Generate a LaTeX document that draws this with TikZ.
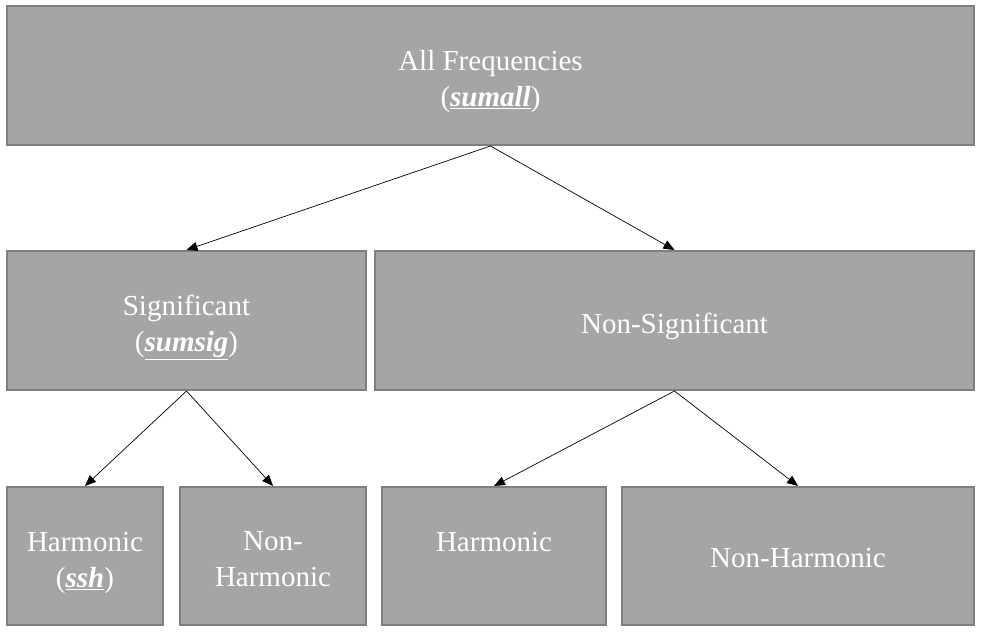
\documentclass[tikz,border=0pt]{standalone}
\usepackage{fontspec}
\setmainfont{Liberation Serif}
\usetikzlibrary{arrows.meta}
\definecolor{boxfill}{HTML}{A5A5A5}
\definecolor{boxline}{HTML}{7F7F7F}
\begin{document}
\begin{tikzpicture}[x=1pt,y=-1pt,
  box/.style={draw=boxline, fill=boxfill, line width=2pt, inner sep=0pt},
  lbl/.style={inner sep=0pt, text=white, align=center, font=\fontsize{29}{36}\selectfont},
  conn/.style={draw=black, line width=0.7pt, -{Triangle[length=11pt,width=9pt]}}]
\useasboundingbox (0,0) rectangle (981,631);
\fill[white] (0,0) rectangle (981,631);
\node[box, minimum width=967pt, minimum height=139pt] (top) at (490.5,75.5) {};
\node[box, minimum width=359pt, minimum height=139pt] (sig) at (186.5,320.5) {};
\node[box, minimum width=599pt, minimum height=139pt] (nsig) at (674.5,320.5) {};
\node[box, minimum width=156pt, minimum height=138pt] (h1) at (85,556) {};
\node[box, minimum width=186pt, minimum height=138pt] (nh1) at (273,556) {};
\node[box, minimum width=224pt, minimum height=138pt] (h2) at (494,556) {};
\node[box, minimum width=352pt, minimum height=138pt] (nh2) at (798,556) {};
\node[lbl] (ttop) at ([yshift=-6pt]top.center) {All Frequencies\\(\underline{\textbf{\textit{sumall}}})};
\node[lbl] (tsig) at ([yshift=-7pt]sig.center) {Significant\\(\underline{\textbf{\textit{sumsig}}})};
\node[lbl] (tnsig) at ([yshift=-6pt]nsig.center) {Non-Significant};
\node[lbl] (th1) at ([yshift=-7pt]h1.center) {Harmonic\\(\underline{\textbf{\textit{ssh}}})};
\node[lbl] (tnh1) at ([yshift=-3pt]nh1.center) {Non-\\Harmonic};
\node[lbl] (th2) at ([yshift=-4pt]h2.center) {Harmonic\\\mbox{}};
\node[lbl] (tnh2) at ([yshift=-2pt]nh2.center) {Non-Harmonic};
\draw[conn] (top.south) -- (sig.north);
\draw[conn] (top.south) -- (nsig.north);
\draw[conn] (sig.south) -- (h1.north);
\draw[conn] (sig.south) -- (nh1.north);
\draw[conn] (nsig.south) -- (h2.north);
\draw[conn] (nsig.south) -- (nh2.north);
\end{tikzpicture}
\end{document}
